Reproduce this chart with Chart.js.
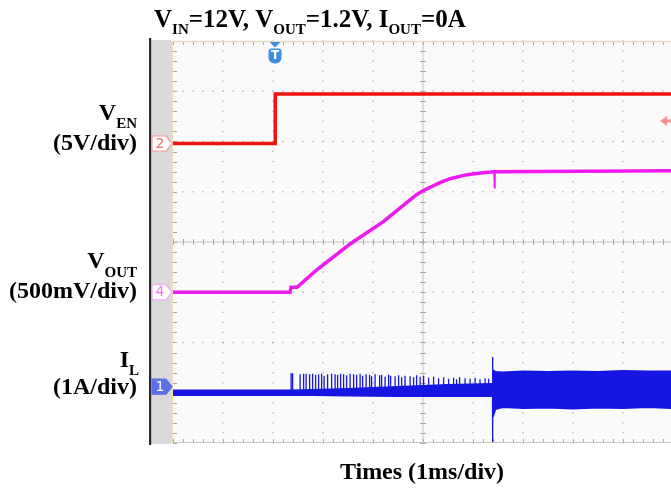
<!DOCTYPE html>
<html><head><meta charset="utf-8">
<script src="https://cdn.jsdelivr.net/npm/chart.js@4"></script>
<style>html,body{margin:0;padding:0;background:#fff}#wrap{width:671px;height:489px;position:relative}</style>
</head><body><div id="wrap"><canvas id="c"></canvas></div>
<script>
// ---------- data (time in ms = divisions at 1 ms/div) ----------
const venTime  = [0, 2.04, 2.045, 9.96];
const venVolts = [0, 0, 4.93, 4.93];

const voutTime  = [0, 2.34, 2.36, 2.48, 2.87, 3.54, 4.2, 4.87, 5.0, 5.34, 5.54, 5.88, 6.2, 6.42, 9.96];
const voutVolts = [0, 0, 0.05, 0.05, 0.22, 0.48, 0.70, 0.97, 1.01, 1.09, 1.13, 1.17, 1.19, 1.20, 1.21];
const voutSpikeTime  = [6.42, 6.43, 6.44];
const voutSpikeVolts = [1.20, 1.04, 1.20];

const ilBaseTime  = [0, 2.34, 2.8, 3.5, 4.5, 5.5, 6.39];
const ilBaseUpper = [-0.07, -0.07, -0.06, -0.04, 0.0, 0.04, 0.06];
const ilBaseLower = [-0.17, -0.17, -0.17, -0.18, -0.19, -0.19, -0.19];

const ilPulseTime = [2.36, 2.39, 2.54, 2.61, 2.66, 2.73, 2.79, 2.85, 2.91, 2.97, 3.02, 3.09, 3.17, 3.24, 3.29, 3.35, 3.41, 3.47, 3.54, 3.61, 3.67, 3.74, 3.79, 3.86, 3.93, 3.97, 4.04, 4.13, 4.17, 4.24, 4.31, 4.35, 4.44, 4.51, 4.57, 4.64, 4.74, 4.81, 4.87, 4.94, 5.01, 5.11, 5.21, 5.31, 5.41, 5.51, 5.61, 5.67, 5.73, 5.84, 5.94, 6.04, 6.14, 6.24, 6.31];
const ilPulsePeak = [0.27,0.27,0.25,0.26,0.26,0.25,0.26,0.24,0.25,0.26,0.22,0.25,0.26,0.25,0.24,0.26,0.25,0.23,0.26,0.25,0.24,0.26,0.22,0.25,0.24,0.21,0.25,0.23,0.24,0.20,0.24,0.22,0.21,0.23,0.19,0.22,0.21,0.19,0.23,0.20,0.22,0.18,0.20,0.17,0.19,0.16,0.18,0.15,0.19,0.17,0.16,0.18,0.15,0.17,0.16];
const ilPulseBase = -0.12;

const ilStepTime = [6.39, 6.39, 6.393, 6.397];
const ilStepAmps = [-0.1, 0.59, -1.10, -0.3];

const ilSwTime  = [6.40, 6.45, 6.6, 7.0, 7.5, 8.0, 8.5, 9.0, 9.5, 9.96];
const ilSwUpper = [0.33, 0.30, 0.29, 0.31, 0.30, 0.31, 0.30, 0.32, 0.31, 0.31];
const ilSwLower = [-0.60, -0.45, -0.41, -0.43, -0.42, -0.44, -0.42, -0.43, -0.41, -0.43];

const trigTime = 2.04;
const trigLevelVolts = 2.24;

// channel settings (offset in divisions, units per division)
const chVEN  = {offset: 1.96,  perDiv: 5};
const chVOUT = {offset: -1.0,  perDiv: 0.5};
const chIL   = {offset: -2.88, perDiv: 1};

const xMin = 0, xMax = 9.96, yMin = -4, yMax = 4;

const toDiv = (v, ch) => ch.offset + v / ch.perDiv;
const pts = (ts, vs, ch) => ts.map((t, i) => ({x: t, y: toDiv(vs[i], ch)}));

const pulsePts = [];
ilPulseTime.forEach((t, i) => {
  pulsePts.push({x: t, y: toDiv(ilPulseBase, chIL)});
  pulsePts.push({x: t, y: toDiv(ilPulsePeak[i], chIL)});
  pulsePts.push({x: t + 0.004, y: toDiv(ilPulseBase, chIL)});
  pulsePts.push({x: t + 0.005, y: null});
});

const RED = '#f21212', MAG = '#f018f0', BLUE = '#1616e2';
const SERIF = '"Liberation Serif", "Times New Roman", serif';

function richText(ctx, x, y, parts, align, mainSize, subSize, subDrop) {
  const mf = 'bold ' + mainSize + 'px ' + SERIF, sf = 'bold ' + subSize + 'px ' + SERIF;
  let w = 0;
  parts.forEach(p => { ctx.font = p[1] ? sf : mf; w += ctx.measureText(p[0]).width; });
  let cx = align === 'right' ? x - w : align === 'center' ? x - w / 2 : x;
  ctx.textAlign = 'left'; ctx.textBaseline = 'alphabetic'; ctx.fillStyle = '#000';
  parts.forEach(p => {
    ctx.font = p[1] ? sf : mf;
    ctx.fillText(p[0], cx, p[1] ? y + subDrop : y);
    cx += ctx.measureText(p[0]).width;
  });
}

const scopePlugin = {
  id: 'scope',
  beforeDraw(chart) {
    const {ctx, chartArea: a} = chart;
    ctx.save();
    ctx.fillStyle = '#fff'; ctx.fillRect(0, 0, chart.width, chart.height);
    ctx.fillStyle = '#d9d9d9'; ctx.fillRect(151, a.top - 1, a.left - 153, a.bottom - a.top + 2);
    ctx.fillStyle = '#2a2a2a'; ctx.fillRect(149, a.top - 3, 2.2, a.bottom - a.top + 5);
    ctx.fillStyle = '#fafafa'; ctx.fillRect(a.left, a.top, a.right - a.left, a.bottom - a.top);
    ctx.restore();
  },
  beforeDatasetsDraw(chart) {
    const {ctx, chartArea: a, scales: {x, y}} = chart;
    ctx.save();
    ctx.fillStyle = '#b8b8b8';
    for (let i = 1; i <= 9; i++) {
      if (i === 5) continue;
      const px = x.getPixelForValue(i);
      for (let v = yMin; v <= yMax + 1e-6; v += 0.2) ctx.fillRect(px - 0.7, y.getPixelForValue(v) - 0.7, 1.4, 1.4);
    }
    for (let j = -3; j <= 3; j++) {
      if (j === 0) continue;
      const py = y.getPixelForValue(j);
      for (let v = xMin; v <= xMax; v += 0.2) ctx.fillRect(x.getPixelForValue(v) - 0.7, py - 0.7, 1.4, 1.4);
    }
    const cx = x.getPixelForValue(5), cy = y.getPixelForValue(0);
    ctx.strokeStyle = '#c4c4c4'; ctx.lineWidth = 1;
    ctx.beginPath(); ctx.moveTo(cx, a.top); ctx.lineTo(cx, a.bottom); ctx.moveTo(a.left, cy); ctx.lineTo(a.right, cy); ctx.stroke();
    ctx.strokeStyle = '#a8a8a8';
    ctx.beginPath();
    for (let v = yMin; v <= yMax + 1e-6; v += 0.2) { const py = Math.round(y.getPixelForValue(v)) + 0.5; ctx.moveTo(cx - 3, py); ctx.lineTo(cx + 3, py); }
    for (let v = xMin; v <= xMax; v += 0.2) { const px = Math.round(x.getPixelForValue(v)) + 0.5; ctx.moveTo(px, cy - 3); ctx.lineTo(px, cy + 3); }
    for (let v = xMin; v <= xMax; v += 0.2) {
      const px = Math.round(x.getPixelForValue(v)) + 0.5;
      ctx.moveTo(px, a.top); ctx.lineTo(px, a.top + 4);
      ctx.moveTo(px, a.bottom); ctx.lineTo(px, a.bottom - 4);
    }
    for (let v = yMin; v <= yMax + 1e-6; v += 0.2) {
      const py = Math.round(y.getPixelForValue(v)) + 0.5;
      ctx.moveTo(a.left, py); ctx.lineTo(a.left + 4, py);
    }
    ctx.stroke();
    ctx.strokeStyle = '#e4dcc0'; ctx.lineWidth = 1.5;
    ctx.beginPath(); ctx.moveTo(a.left, a.top + 0.5); ctx.lineTo(a.right, a.top + 0.5); ctx.stroke();
    ctx.strokeStyle = '#c8c8c8'; ctx.lineWidth = 1;
    ctx.beginPath(); ctx.moveTo(a.left, a.bottom - 0.5); ctx.lineTo(a.right, a.bottom - 0.5); ctx.stroke();
    ctx.fillStyle = '#f0dcb0'; ctx.fillRect(a.left - 2, a.top, 2, a.bottom - a.top);
    ctx.restore();
  },
  afterDatasetsDraw(chart) {
    const {ctx, chartArea: a, scales: {x, y}} = chart;
    ctx.save();
    const marker = (ch, label, fill, stroke, txt) => {
      const py = y.getPixelForValue(ch.offset), x0 = 152;
      ctx.beginPath();
      ctx.moveTo(x0, py - 7.5); ctx.lineTo(x0 + 14, py - 7.5); ctx.lineTo(x0 + 20, py); ctx.lineTo(x0 + 14, py + 7.5); ctx.lineTo(x0, py + 7.5); ctx.closePath();
      ctx.fillStyle = fill; ctx.fill(); ctx.strokeStyle = stroke; ctx.lineWidth = 1.2; ctx.stroke();
      ctx.fillStyle = txt; ctx.font = '14px "DejaVu Sans", sans-serif'; ctx.textAlign = 'center'; ctx.textBaseline = 'middle';
      ctx.fillText(label, x0 + 8, py + 0.5);
    };
    marker(chVEN, '2', '#ffffff', '#f39a9a', '#f06a6a');
    marker(chVOUT, '4', '#ffffff', '#f2a4f2', '#e878e8');
    marker(chIL, '1', '#5b6fe6', '#5b6fe6', '#ffffff');
    const tx = x.getPixelForValue(trigTime);
    ctx.fillStyle = '#3a8ee0';
    ctx.beginPath(); ctx.moveTo(tx - 5.5, a.top + 1); ctx.lineTo(tx + 5.5, a.top + 1); ctx.lineTo(tx, a.top + 6.5); ctx.closePath(); ctx.fill();
    ctx.beginPath(); ctx.roundRect(tx - 6.5, a.top + 7.5, 13, 15, [3, 3, 6, 6]); ctx.fill();
    ctx.fillStyle = '#fff'; ctx.font = 'bold 12px "DejaVu Sans", sans-serif'; ctx.textAlign = 'center'; ctx.textBaseline = 'middle';
    ctx.fillText('T', tx, a.top + 15);
    const ty = y.getPixelForValue(toDiv(trigLevelVolts, chVEN));
    ctx.fillStyle = '#f49090';
    ctx.beginPath(); ctx.moveTo(660, ty); ctx.lineTo(667, ty - 5); ctx.lineTo(667, ty + 5); ctx.closePath(); ctx.fill();
    ctx.fillRect(666, ty - 1.5, 5, 3);
    richText(ctx, 154, 27, [['V', 0], ['IN', 1], ['=12V, V', 0], ['OUT', 1], ['=1.2V, I', 0], ['OUT', 1], ['=0A', 0]], 'left', 25, 15, 7);
    richText(ctx, 137, 120, [['V', 0], ['EN', 1]], 'right', 24, 15, 8);
    richText(ctx, 137, 150, [['(5V/div)', 0]], 'right', 24, 15, 0);
    richText(ctx, 137, 268, [['V', 0], ['OUT', 1]], 'right', 24, 15, 9);
    richText(ctx, 137, 298, [['(500mV/div)', 0]], 'right', 24, 15, 0);
    richText(ctx, 139, 367, [['I', 0], ['L', 1]], 'right', 24, 15, 8);
    richText(ctx, 137, 394, [['(1A/div)', 0]], 'right', 24, 15, 0);
    richText(ctx, 422, 479, [['Times (1ms/div)', 0]], 'center', 24, 15, 0);
    ctx.restore();
  }
};

new Chart(document.getElementById('c'), {
  type: 'line',
  data: {
    datasets: [
      {data: pts(ilBaseTime, ilBaseUpper, chIL), borderColor: BLUE, borderWidth: 1.5, fill: false},
      {data: pts(ilBaseTime, ilBaseLower, chIL), borderColor: BLUE, borderWidth: 1.5, backgroundColor: BLUE, fill: '-1'},
      {data: pulsePts, borderColor: BLUE, borderWidth: 1.3, fill: false, spanGaps: false},
      {data: pts(ilStepTime, ilStepAmps, chIL), borderColor: BLUE, borderWidth: 1.3, fill: false},
      {data: pts(ilSwTime, ilSwUpper, chIL), borderColor: BLUE, borderWidth: 1.5, fill: false},
      {data: pts(ilSwTime, ilSwLower, chIL), borderColor: BLUE, borderWidth: 1.5, backgroundColor: BLUE, fill: '-1'},
      {data: pts(voutTime, voutVolts, chVOUT), borderColor: MAG, borderWidth: 3.5, fill: false},
      {data: pts(voutSpikeTime, voutSpikeVolts, chVOUT), borderColor: MAG, borderWidth: 1.5, fill: false},
      {data: pts(venTime, venVolts, chVEN), borderColor: RED, borderWidth: 3.5, fill: false}
    ]
  },
  options: {
    responsive: true, maintainAspectRatio: false, animation: false,
    layout: {padding: {left: 173, top: 41, right: 0, bottom: 46}},
    elements: {point: {radius: 0}, line: {tension: 0}},
    scales: {
      x: {type: 'linear', min: xMin, max: xMax, display: false},
      y: {type: 'linear', min: yMin, max: yMax, display: false}
    },
    plugins: {legend: {display: false}, tooltip: {enabled: false}, title: {display: false}}
  },
  plugins: [scopePlugin]
});
</script></body></html>
